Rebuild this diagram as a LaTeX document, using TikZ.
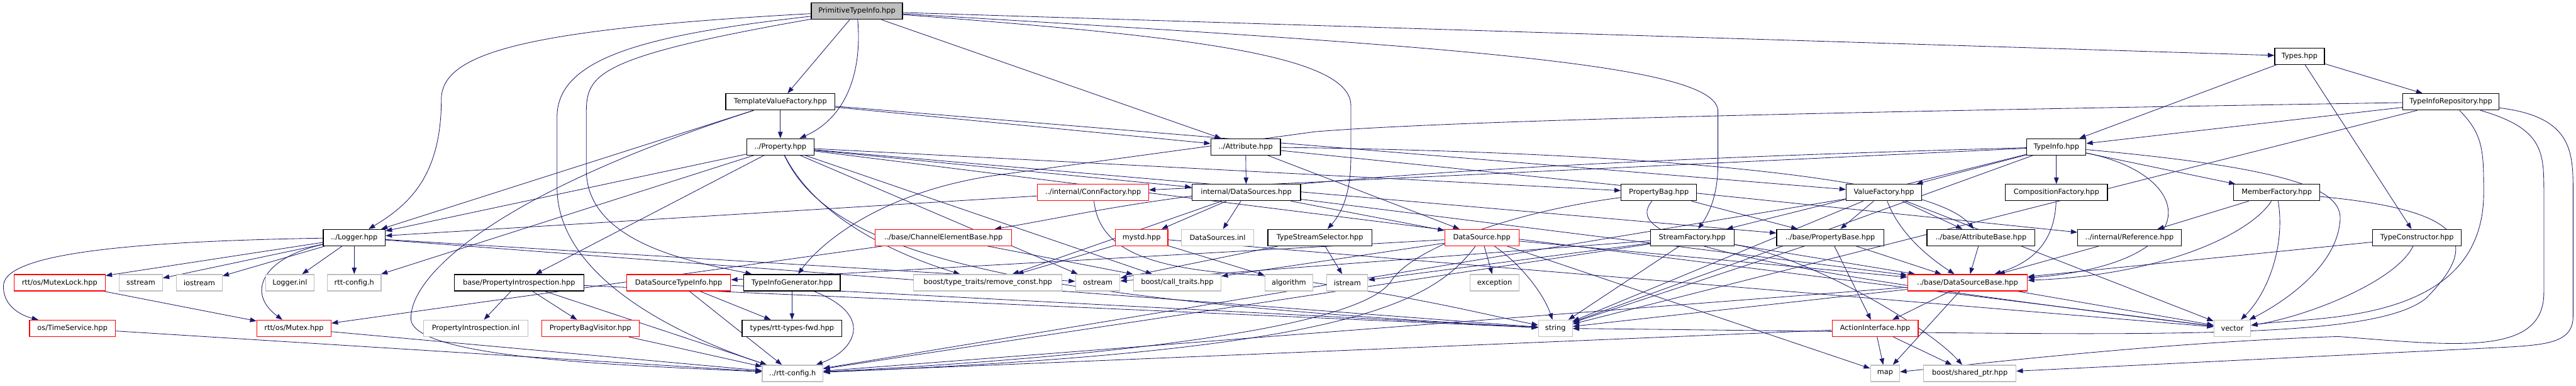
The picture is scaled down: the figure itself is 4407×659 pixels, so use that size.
\documentclass[tikz,border=0pt]{standalone}
\usepackage{fontspec}
\setmainfont{DejaVu Sans}
\usepackage{tikz}
\usetikzlibrary{arrows.meta, backgrounds}

\definecolor{edgeblue}{HTML}{191970}
\definecolor{extgray}{HTML}{BFBFBF}
\definecolor{truncred}{HTML}{FF0000}

\begin{document}
\begin{tikzpicture}[
    x=1pt, y=-1pt,
    font=\fontsize{12.2}{14}\selectfont,
    >={Triangle[length=11pt, width=8pt]},
    file/.style={draw=black, fill=white, line width=1.3pt, minimum height=28pt, inner sep=0pt},
    ext/.style={file, draw=extgray},
    trunc/.style={file, draw=truncred},
    root/.style={file, fill=extgray},
    dep/.style={->, draw=edgeblue, line width=0.9pt}
]
\useasboundingbox (0,0) rectangle (4407,659);

% row 0 - 2
\node[root, minimum width=156pt] (pti) at (1466,19) {PrimitiveTypeInfo.hpp};
\node[file, minimum width=85pt] (types) at (3934,96) {Types.hpp};
\node[file, minimum width=187pt] (tvf) at (1335,174) {TemplateValueFactory.hpp};
\node[file, minimum width=165pt] (tir) at (4193,174) {TypeInfoRepository.hpp};

% row 3 - 4
\node[file, minimum width=115pt] (prop) at (1335,251) {../Property.hpp};
\node[file, minimum width=119pt] (attr) at (2131,251) {../Attribute.hpp};
\node[file, minimum width=101pt] (ti) at (3518,251) {TypeInfo.hpp};
\node[trunc, minimum width=190pt] (connf) at (1870,329) {../internal/ConnFactory.hpp};
\node[file, minimum width=186pt] (dss) at (2132,329) {internal/DataSources.hpp};
\node[file, minimum width=129pt] (pbag) at (2838,329) {PropertyBag.hpp};
\node[file, minimum width=129pt] (vf) at (3223,329) {ValueFactory.hpp};
\node[file, minimum width=175pt] (cf) at (3518,329) {CompositionFactory.hpp};
\node[file, minimum width=147pt] (mf) at (3895,329) {MemberFactory.hpp};

% row 5
\node[file, minimum width=106pt] (logger) at (606,406) {../Logger.hpp};
\node[trunc, minimum width=234pt] (ceb) at (1614,406) {../base/ChannelElementBase.hpp};
\node[trunc, minimum width=90pt] (mystd) at (1953,406) {mystd.hpp};
\node[ext, minimum width=123pt] (dsinl) at (2083,406) {DataSources.inl};
\node[file, minimum width=178pt] (tss) at (2258,406) {TypeStreamSelector.hpp};
\node[trunc, minimum width=127pt] (ds) at (2535,406) {DataSource.hpp};
\node[file, minimum width=143pt] (sf) at (2895,406) {StreamFactory.hpp};
\node[file, minimum width=183pt] (pbase) at (3131,406) {../base/PropertyBase.hpp};
\node[file, minimum width=185pt] (abase) at (3389,406) {../base/AttributeBase.hpp};
\node[file, minimum width=177pt] (ref) at (3643,406) {../internal/Reference.hpp};
\node[file, minimum width=152pt] (tc) at (4135,406) {TypeConstructor.hpp};

% row 6
\node[trunc, minimum width=156pt] (mlock) at (102,483) {rtt/os/MutexLock.hpp};
\node[ext, minimum width=74pt] (sstream) at (241,483) {sstream};
\node[ext, minimum width=78pt] (iostream) at (341,483) {iostream};
\node[ext, minimum width=83pt] (linl) at (496,483) {Logger.inl};
\node[ext, minimum width=92pt] (rcfg) at (606,483) {rtt-config.h};
\node[file, minimum width=222pt] (pi) at (888,483) {base/PropertyIntrospection.hpp};
\node[trunc, minimum width=178pt] (dsti) at (1161,483) {DataSourceTypeInfo.hpp};
\node[file, minimum width=165pt] (tig) at (1355,483) {TypeInfoGenerator.hpp};
\node[ext, minimum width=254pt] (rconst) at (1690,483) {boost/type\_traits/remove\_const.hpp};
\node[ext, minimum width=76pt] (ostream) at (1878,483) {ostream};
\node[ext, minimum width=150pt] (ctraits) at (2014,483) {boost/call\_traits.hpp};
\node[ext, minimum width=82pt] (algo) at (2205,483) {algorithm};
\node[ext, minimum width=70pt] (istream) at (2305,483) {istream};
\node[ext, minimum width=84pt] (except) at (2557,483) {exception};
\node[trunc, minimum width=205pt] (dsbase) at (3366,483) {../base/DataSourceBase.hpp};

% row 7 - 8
\node[trunc, minimum width=147pt] (ts) at (124,561) {os/TimeService.hpp};
\node[trunc, minimum width=127pt] (mutex) at (503,561) {rtt/os/Mutex.hpp};
\node[ext, minimum width=178pt] (piinl) at (814,561) {PropertyIntrospection.inl};
\node[trunc, minimum width=167pt] (pbv) at (1010,561) {PropertyBagVisitor.hpp};
\node[file, minimum width=171pt] (fwd) at (1355,561) {types/rtt-types-fwd.hpp};
\node[ext, minimum width=58pt] (str) at (2661,561) {string};
\node[trunc, minimum width=147pt] (ai) at (3208,561) {ActionInterface.hpp};
\node[ext, minimum width=63pt] (vec) at (3819,561) {vector};
\node[ext, minimum width=104pt] (rcfg2) at (1356,638) {../rtt-config.h};
\node[ext, minimum width=50pt] (map) at (3225,638) {map};
\node[ext, minimum width=158pt] (sptr) at (3370,638) {boost/shared\_ptr.hpp};

\begin{scope}[on background layer]
% PrimitiveTypeInfo.hpp
\draw[dep] (pti) -- (types);
\draw[dep] (pti) -- (tvf);
\draw[dep] (pti) .. controls (1475,120) and (1450,200) .. (prop);
\draw[dep] (pti) -- (attr);
\draw[dep] (pti) .. controls (900,50) and (755,90) .. (755,170) .. controls (755,300) and (700,350) .. (logger);
\draw[dep] (pti) .. controls (1100,60) and (953,100) .. (953,200) -- (953,320) .. controls (953,470) and (1150,570) .. (rcfg2);
\draw[dep] (pti) .. controls (1003,100) and (1003,130) .. (1003,200) -- (1003,290) .. controls (1003,420) and (1200,450) .. (tig);
\draw[dep] (pti) .. controls (2000,60) and (2311,90) .. (2311,180) -- (2311,270) .. controls (2311,340) and (2290,370) .. (tss);
\draw[dep] (pti) .. controls (2500,80) and (2939,110) .. (2939,190) -- (2939,280) .. controls (2939,340) and (2920,370) .. (sf);

% Types.hpp
\draw[dep] (types) -- (ti);
\draw[dep] (types) -- (tir);
\draw[dep] (types) -- (tc);

% TypeInfoRepository.hpp
\draw[dep] (tir) -- (ti);
\draw[dep] (tir) .. controls (3200,190) and (2500,205) .. (2250,225) -- (1700,300) .. controls (1500,330) and (1400,420) .. (tig);
\draw[dep] (tir) -- (str);
\draw[dep] (tir) .. controls (4249,230) and (4249,260) .. (4249,330) .. controls (4249,560) and (3950,540) .. (vec);
\draw[dep] (tir) .. controls (4352,220) and (4352,260) .. (4352,330) -- (4352,500) .. controls (4352,610) and (4200,590) .. (4000,575) .. controls (3700,585) and (3400,620) .. (map);
\draw[dep] (tir) .. controls (4402,200) and (4402,260) .. (4402,330) -- (4402,540) .. controls (4402,590) and (4350,590) .. (4250,595) -- (sptr);

% TemplateValueFactory.hpp
\draw[dep] (tvf) -- (prop);
\draw[dep] (tvf) -- (attr);
\draw[dep] (tvf) -- (vf);
\draw[dep] (tvf) -- (logger);
\draw[dep] (tvf) .. controls (850,330) and (700,470) .. (703,546) .. controls (710,615) and (1100,625) .. (rcfg2);

% ../Property.hpp
\draw[dep] (prop) -- (logger);
\draw[dep] (prop) -- (rcfg);
\draw[dep] (prop) -- (pi);
\draw[dep] (prop) -- (dss);
\draw[dep] (prop) -- (pbag);
\draw[dep] (prop) -- (pbase);
\draw[dep] (prop) .. controls (1400,380) and (1550,440) .. (rconst);
\draw[dep] (prop) -- (ctraits);
\draw[dep] (prop) .. controls (1420,430) and (1700,510) .. (str);
\draw[dep] (prop) -- (vec);
\draw[dep] (prop) -- (ostream);

% ../Attribute.hpp
\draw[dep] (attr) -- (dss);
\draw[dep] (attr) .. controls (2800,260) and (3300,300) .. (abase);
\draw[dep] (attr) -- (ds);
\draw[dep] (attr) -- (ref);

% TypeInfo.hpp
\draw[dep] (ti) -- (cf);
\draw[dep] (ti) -- (mf);
\draw[dep] (ti) -- (vf);
\draw[dep] (ti) -- (sf);
\draw[dep] (ti) -- (connf);
\draw[dep] (ti) .. controls (2100,290) and (1950,350) .. (ceb);
\draw[dep] (ti) .. controls (3760,300) and (3780,450) .. (dsbase);
\draw[dep] (ti) .. controls (3950,290) and (4010,330) .. (4003,380) .. controls (3995,460) and (3900,520) .. (vec);
\draw[dep] (ti) -- (str);

% CompositionFactory.hpp, MemberFactory.hpp, TypeConstructor.hpp
\draw[dep] (cf) .. controls (3515,420) and (3470,450) .. (dsbase);
\draw[dep] (mf) -- (ref);
\draw[dep] (mf) .. controls (3850,400) and (3700,470) .. (dsbase);
\draw[dep] (mf) .. controls (3910,420) and (3880,500) .. (vec);
\draw[dep] (mf) .. controls (4230,360) and (4240,420) .. (4150,510) .. controls (4050,590) and (3600,570) .. (str);
\draw[dep] (tc) -- (dsbase);
\draw[dep] (tc) .. controls (4100,480) and (3950,540) .. (vec);

% ValueFactory.hpp
\draw[dep] (vf) -- (pbase);
\draw[dep] (vf) .. controls (3250,400) and (3300,440) .. (dsbase);
\draw[dep] (vf) -- (abase);
\draw[dep] (vf) -- (vec);
\draw[dep] (vf) -- (str);
\draw[dep] (vf) -- (rcfg2);

% StreamFactory.hpp, TypeStreamSelector.hpp
\draw[dep] (sf) -- (istream);
\draw[dep] (sf) -- (ostream);
\draw[dep] (sf) -- (str);
\draw[dep] (sf) -- (rcfg2);
\draw[dep] (sf) -- (dsbase);
\draw[dep] (sf) .. controls (3100,440) and (3300,560) .. (sptr);
\draw[dep] (tss) -- (istream);
\draw[dep] (tss) -- (ostream);

% PropertyBag.hpp
\draw[dep] (pbag) -- (pbase);
\draw[dep] (pbag) .. controls (2780,400) and (2900,450) .. (vec);
\draw[dep] (pbag) .. controls (2600,360) and (2420,420) .. (2380,480) .. controls (2330,560) and (1900,610) .. (rcfg2);

% internal/DataSources.hpp, mystd.hpp
\draw[dep] (dss) -- (mystd);
\draw[dep] (dss) -- (dsinl);
\draw[dep] (dss) -- (ds);
\draw[dep] (dss) -- (rconst);
\draw[dep] (dss) -- (dsbase);
\draw[dep] (mystd) -- (rconst);
\draw[dep] (mystd) -- (algo);
\draw[dep] (mystd) -- (vec);

% ConnFactory / ChannelElementBase
\draw[dep] (connf) -- (logger);
\draw[dep] (connf) .. controls (1880,420) and (1950,460) .. (2150,470) .. controls (2400,500) and (2550,540) .. (str);
\draw[dep] (ceb) -- (mutex);
\draw[dep] (ceb) -- (ctraits);

% DataSource.hpp
\draw[dep] (ds) -- (dsti);
\draw[dep] (ds) -- (dsbase);
\draw[dep] (ds) -- (except);
\draw[dep] (ds) .. controls (2600,450) and (2640,500) .. (str);
\draw[dep] (ds) .. controls (2450,520) and (2300,600) .. (rcfg2);
\draw[dep] (ds) -- (map);
\draw[dep] (ds) -- (ctraits);

% base headers
\draw[dep] (dsbase) -- (ai);
\draw[dep] (dsbase) -- (map);
\draw[dep] (dsbase) -- (vec);
\draw[dep] (dsbase) -- (str);
\draw[dep] (dsbase) -- (rcfg2);
\draw[dep] (pbase) -- (dsbase);
\draw[dep] (pbase) -- (ai);
\draw[dep] (pbase) -- (str);
\draw[dep] (abase) -- (dsbase);
\draw[dep] (ref) -- (dsbase);
\draw[dep] (ai) -- (map);
\draw[dep] (ai) -- (sptr);
\draw[dep] (ai) -- (rcfg2);

% generators and introspection
\draw[dep] (tig) -- (fwd);
\draw[dep] (tig) .. controls (1500,540) and (1460,600) .. (rcfg2);
\draw[dep] (dsti) -- (fwd);
\draw[dep] (dsti) -- (rcfg2);
\draw[dep] (dsti) -- (str);
\draw[dep] (pi) -- (piinl);
\draw[dep] (pi) -- (pbv);
\draw[dep] (pi) -- (rcfg2);
\draw[dep] (pi) -- (str);
\draw[dep] (pbv) -- (rcfg2);

% ../Logger.hpp
\draw[dep] (logger) .. controls (250,412) and (10,430) .. (6,487) .. controls (4,525) and (40,540) .. (ts);
\draw[dep] (logger) -- (mlock);
\draw[dep] (logger) -- (sstream);
\draw[dep] (logger) -- (iostream);
\draw[dep] (logger) .. controls (450,440) and (420,500) .. (mutex);
\draw[dep] (logger) -- (linl);
\draw[dep] (logger) -- (rcfg);
\draw[dep] (logger) -- (str);
\draw[dep] (logger) -- (ostream);
\draw[dep] (mlock) -- (mutex);
\draw[dep] (ts) -- (rcfg2);
\draw[dep] (mutex) -- (rcfg2);
\end{scope}

\end{tikzpicture}
\end{document}
